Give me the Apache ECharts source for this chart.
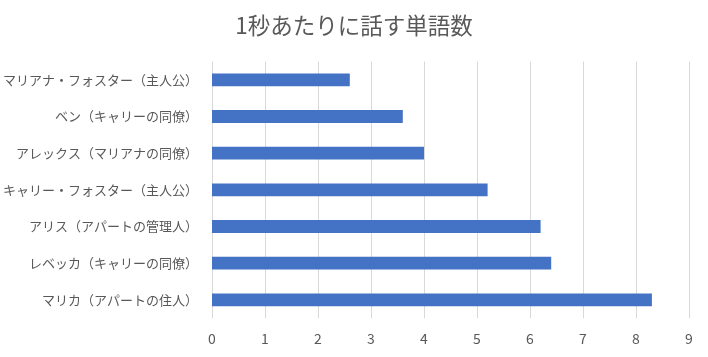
<!DOCTYPE html>
<html><head><meta charset="utf-8">
<script src="https://cdn.jsdelivr.net/npm/echarts@6/dist/echarts.min.js"></script>
<style>html,body{margin:0;padding:0;background:#fff}#c{width:708px;height:357px}</style>
</head><body><div id="c"></div>
<script>
const titleText = '1秒あたりに話す単語数';
const categories = ['マリアナ・フォスター（主人公）','ベン（キャリーの同僚）','アレックス（マリアナの同僚）','キャリー・フォスター（主人公）','アリス（アパートの管理人）','レベッカ（キャリーの同僚）','マリカ（アパートの住人）'];
const values = [2.6, 3.6, 4.0, 5.2, 6.2, 6.4, 8.3];
const xTicks = [0,1,2,3,4,5,6,7,8,9];

const chart = echarts.init(document.getElementById('c'), null, {renderer:'canvas'});
const font = '"Noto Sans CJK JP", "Noto Sans", sans-serif';
chart.setOption({
  animation:false,
  backgroundColor:'#fff',
  title:{text:titleText, left:'center', top:9, textStyle:{fontFamily:font, fontSize:22.5, fontWeight:'normal', color:'#595959'}},
  grid:{left:210.5, right:19, top:61.5, height:256.7, containLabel:false},
  xAxis:{type:'value', min:xTicks[0], max:xTicks[xTicks.length-1], interval:1,
    axisLine:{show:false}, axisTick:{show:false},
    axisLabel:{color:'#595959', fontFamily:font, fontSize:14, margin:13},
    splitLine:{show:true, lineStyle:{color:'#d9d9d9', width:1}}},
  yAxis:{type:'category', data:categories, inverse:true,
    axisLine:{show:false}, axisTick:{show:false},
    axisLabel:{color:'#595959', fontFamily:font, fontSize:13, margin:14}},
  series:[{type:'bar', data:values, barWidth:'35%', itemStyle:{color:'#4472c4'}}]
});
</script></body></html>
